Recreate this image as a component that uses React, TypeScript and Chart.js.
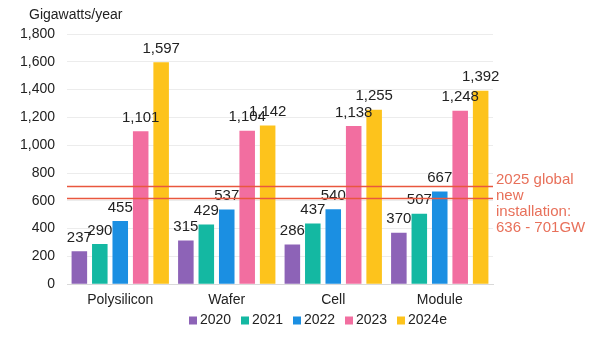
import React, { useEffect, useRef } from "react";
import { Chart, registerables } from "chart.js";

Chart.register(...registerables);

const categories = ["Polysilicon", "Wafer", "Cell", "Module"];
const seriesNames = ["2020", "2021", "2022", "2023", "2024e"];
const v2020 = [237, 315, 286, 370];
const v2021 = [290, 429, 437, 507];
const v2022 = [455, 537, 540, 667];
const v2023 = [1101, 1104, 1138, 1248];
const v2024 = [1597, 1142, 1255, 1392];
const seriesColors = ["#8d63b7", "#14b8a2", "#1b8fe2", "#f26ea0", "#fdc31c"];
const yTicksMax = 1800;
const yStep = 200;
const installLines = [710, 618];
const annotationText = ["2025 global", "new", "installation:", "636 - 701GW"];
const axisTitle = "Gigawatts/year";

const FONT = "'Liberation Sans', Arial, sans-serif";

const fmt = (n: number) => n.toLocaleString("en-US");

const overlayPlugin = {
  id: "overlay",
  afterDatasetsDraw(chart: any) {
    const ctx = chart.ctx;
    const area = chart.chartArea;
    const y = chart.scales.y;
    ctx.save();
    // data labels
    ctx.font = `15px ${FONT}`;
    ctx.fillStyle = "#222";
    ctx.textAlign = "center";
    ctx.textBaseline = "bottom";
    chart.data.datasets.forEach((ds: any, di: number) => {
      const meta = chart.getDatasetMeta(di);
      meta.data.forEach((bar: any, i: number) => {
        ctx.fillText(fmt(ds.data[i]), bar.x, bar.y - 6);
      });
    });
    // installation lines
    ctx.strokeStyle = "#e9573f";
    ctx.lineWidth = 1.3;
    installLines.forEach((v) => {
      const py = Math.round(y.getPixelForValue(v)) + 0.5;
      ctx.beginPath();
      ctx.moveTo(area.left, py);
      ctx.lineTo(area.right, py);
      ctx.stroke();
    });
    // annotation
    ctx.fillStyle = "#e8705a";
    ctx.font = `15px ${FONT}`;
    ctx.textAlign = "left";
    ctx.textBaseline = "middle";
    annotationText.forEach((t, i) => {
      ctx.fillText(t, area.right + 3, 180 + i * 16);
    });
    // axis title
    ctx.fillStyle = "#222";
    ctx.font = `14px ${FONT}`;
    ctx.textBaseline = "middle";
    ctx.fillText(axisTitle, 29, 15);
    // legend
    ctx.font = `14px ${FONT}`;
    let lx = 189;
    const ly = 320.5;
    seriesNames.forEach((name, i) => {
      ctx.fillStyle = seriesColors[i];
      ctx.fillRect(lx, ly - 4, 8, 8);
      ctx.fillStyle = "#222";
      ctx.fillText(name, lx + 11, ly);
      lx += 52;
    });
    ctx.restore();
  },
};

export default function App() {
  const ref = useRef<HTMLCanvasElement>(null);
  useEffect(() => {
    const values = [v2020, v2021, v2022, v2023, v2024];
    const chart = new Chart(ref.current as HTMLCanvasElement, {
      type: "bar",
      data: {
        labels: categories,
        datasets: seriesNames.map((n, i) => ({
          label: n,
          data: values[i],
          backgroundColor: seriesColors[i],
          categoryPercentage: 0.96,
          barPercentage: 0.76,
        })),
      },
      options: {
        responsive: false,
        animation: false,
        layout: { padding: { top: 34, right: 107, left: 0, bottom: 22 } },
        plugins: {
          legend: { display: false },
          tooltip: { enabled: false },
        },
        scales: {
          x: {
            grid: { display: false, drawTicks: false },
            border: { color: "#d9d9d9" },
            ticks: { font: { family: FONT, size: 14 }, color: "#222", padding: 8 },
          },
          y: {
            min: 0,
            max: yTicksMax,
            ticks: {
              stepSize: yStep,
              font: { family: FONT, size: 14 },
              color: "#222",
              padding: 12,
              callback: (v: any) => fmt(Number(v)),
            },
            grid: { color: "#ececec", drawTicks: false },
            border: { display: false },
            afterFit: (s: any) => {
              s.width = 67;
            },
          },
        },
      },
      plugins: [overlayPlugin],
    });
    return () => chart.destroy();
  }, []);
  return (
    <div style={{ position: "fixed", left: 0, top: 0, width: 600, height: 339, background: "#fff" }}>
      <canvas ref={ref} width={600} height={339} />
    </div>
  );
}
